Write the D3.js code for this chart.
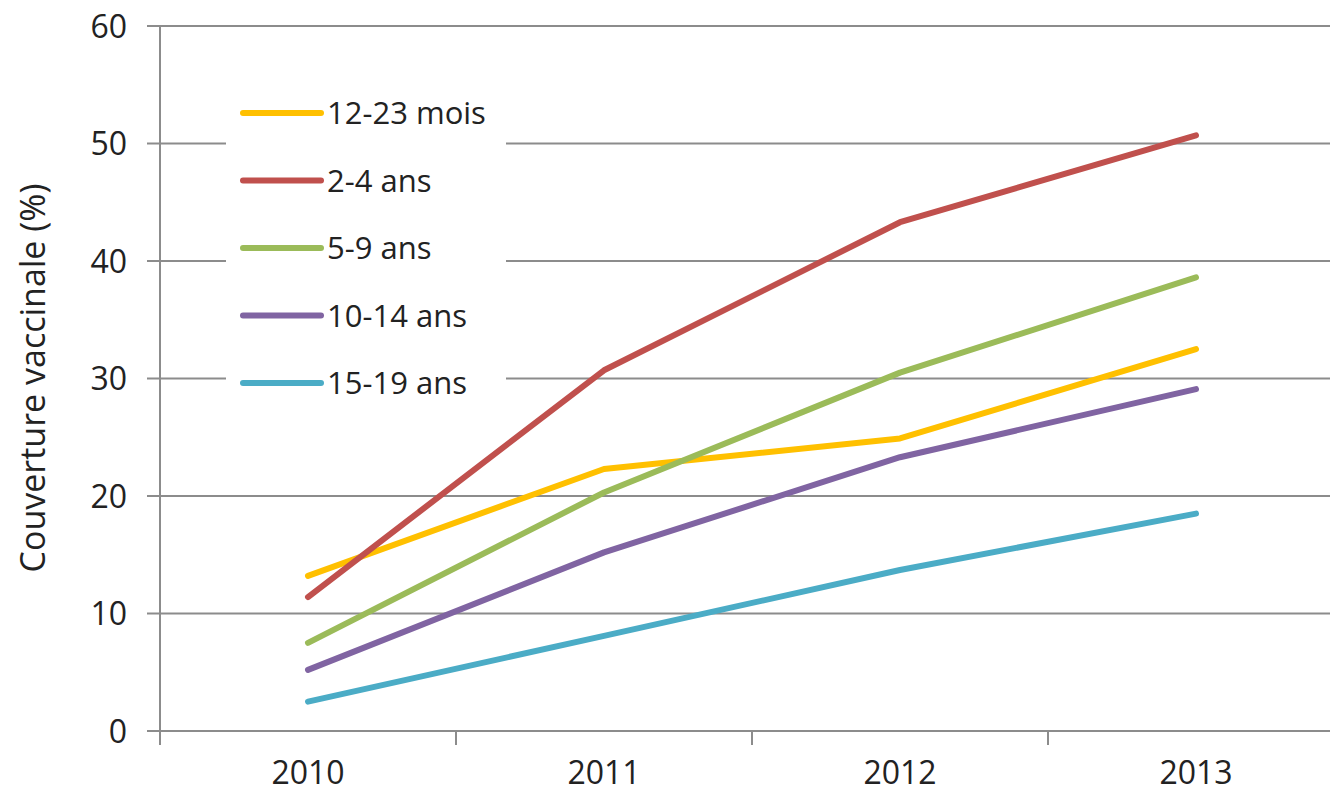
<!DOCTYPE html>
<html>
<head>
<meta charset="utf-8">
<script src="https://cdn.jsdelivr.net/npm/d3@7"></script>
<style>
  body { margin: 0; background: #fff; }
  text { font-family: "Open Sans", sans-serif; fill: #222; }
</style>
</head>
<body>
<div id="chart"></div>
<script>
// data
const years = ["2010", "2011", "2012", "2013"];
const groups = ["12-23 mois", "2-4 ans", "5-9 ans", "10-14 ans", "15-19 ans"];
const colors = ["#FFC000", "#C0504D", "#9BBB59", "#8064A2", "#4BACC6"];
const v1223mois = [13.2, 22.3, 24.9, 32.5];
const v24ans = [11.4, 30.7, 43.3, 50.7];
const v59ans = [7.5, 20.3, 30.5, 38.6];
const v1014ans = [5.2, 15.2, 23.3, 29.1];
const v1519ans = [2.5, 8.1, 13.7, 18.5];
const yTicks = [0, 10, 20, 30, 40, 50, 60];

const series = [v1223mois, v24ans, v59ans, v1014ans, v1519ans];

const width = 1330, height = 796;
const margin = { top: 26, right: -14, bottom: 65, left: 160 };

const svg = d3.select("#chart").append("svg")
    .attr("width", width)
    .attr("height", height);

const x = d3.scaleBand()
    .domain(years)
    .range([margin.left, width - margin.right]);

const y = d3.scaleLinear()
    .domain([0, 60])
    .range([height - margin.bottom, margin.top]);

// gridlines + y ticks
svg.append("g")
    .selectAll("line")
    .data(yTicks)
    .join("line")
    .attr("x1", margin.left - 13)
    .attr("x2", width)
    .attr("y1", d => y(d))
    .attr("y2", d => y(d))
    .attr("stroke", "#8c8c8c")
    .attr("stroke-width", 2);

svg.append("g")
    .style("font-size", "32px")
    .selectAll("text")
    .data(yTicks)
    .join("text")
    .attr("x", 127)
    .attr("y", d => y(d))
    .attr("dy", "0.36em")
    .attr("text-anchor", "end")
    .text(d => d);

// y axis line
svg.append("line")
    .attr("x1", margin.left).attr("x2", margin.left)
    .attr("y1", y(60)).attr("y2", y(0) + 14)
    .attr("stroke", "#8c8c8c")
    .attr("stroke-width", 2);

// x ticks at band boundaries
svg.append("g")
    .selectAll("line")
    .data(years.slice(1))
    .join("line")
    .attr("x1", d => x(d)).attr("x2", d => x(d))
    .attr("y1", y(0)).attr("y2", y(0) + 14)
    .attr("stroke", "#8c8c8c")
    .attr("stroke-width", 2);

svg.append("g")
    .style("font-size", "32px")
    .selectAll("text")
    .data(years)
    .join("text")
    .attr("x", d => x(d) + x.bandwidth() / 2)
    .attr("y", 784)
    .attr("text-anchor", "middle")
    .text(d => d);

// axis title
svg.append("text")
    .attr("transform", "translate(45,378) rotate(-90)")
    .attr("text-anchor", "middle")
    .style("font-size", "34px")
    .text("Couverture vaccinale (%)");

// lines
const line = d3.line()
    .x((d, i) => x(years[i]) + x.bandwidth() / 2)
    .y(d => y(d));

svg.append("g")
    .attr("fill", "none")
    .selectAll("path")
    .data(series)
    .join("path")
    .attr("d", line)
    .attr("stroke", (d, i) => colors[i])
    .attr("stroke-width", 6)
    .attr("stroke-linecap", "round")
    .attr("stroke-linejoin", "round");

// legend with white background hiding gridlines
const legend = svg.append("g");
legend.append("rect")
    .attr("x", 226).attr("y", 85)
    .attr("width", 280).attr("height", 320)
    .attr("fill", "#fff");

const item = legend.selectAll("g.item")
    .data(groups)
    .join("g")
    .attr("class", "item")
    .attr("transform", (d, i) => `translate(0,${113 + i * 67.5})`);

item.append("line")
    .attr("x1", 243).attr("x2", 321)
    .attr("stroke", (d, i) => colors[i])
    .attr("stroke-width", 6)
    .attr("stroke-linecap", "round");

item.append("text")
    .attr("x", 327)
    .attr("dy", "0.36em")
    .style("font-size", "31px")
    .text(d => d);
</script>
</body>
</html>
